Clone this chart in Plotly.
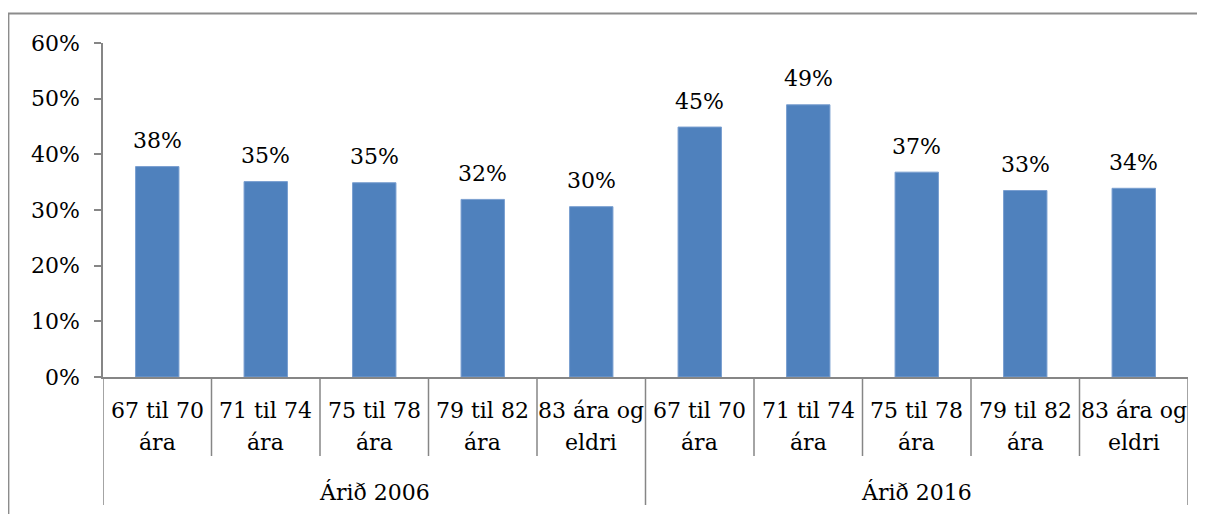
import plotly.graph_objects as go

groups = ["Árið 2006", "Árið 2016"]
categories_line1 = ["67 til 70", "71 til 74", "75 til 78", "79 til 82", "83 ára og"]
categories_line2 = ["ára", "ára", "ára", "ára", "eldri"]
values = [37.8, 35.1, 34.9, 31.9, 30.6, 44.9, 48.9, 36.8, 33.5, 33.9]
labels = ["38%", "35%", "35%", "32%", "30%", "45%", "49%", "37%", "33%", "34%"]
yticks = [0, 10, 20, 30, 40, 50, 60]

FONT = "DejaVu Serif"
AXC = "#868686"
OFF = 8  # page body margin
W, H = 1205 - OFF, 514 - OFF
L, R, T, B = 103 - OFF, 17, 43 - OFF, 137
ph = 377 - 43
pw = 1188 - 103

def py(pix):
    return (377 - pix) / ph

n_per = len(categories_line1)
xs = list(range(len(values)))

fig = go.Figure()
fig.add_trace(go.Bar(
    x=xs, y=values, width=0.4,
    marker=dict(color="#4F81BD", line=dict(color="#7A9FD0", width=1)),
    hoverinfo="skip",
))

ann = []
for x, v, t in zip(xs, values, labels):
    ann.append(dict(x=x, y=v, xref="x", yref="y", text=t, showarrow=False,
                    yanchor="middle", yshift=26, font=dict(family=FONT, size=22, color="black")))
for gi, g in enumerate(groups):
    for ci in range(n_per):
        x = gi * n_per + ci
        ann.append(dict(x=x, y=py(410), xref="x", yref="paper", text=categories_line1[ci],
                        showarrow=False, yanchor="middle",
                        font=dict(family=FONT, size=22, color="black")))
        ann.append(dict(x=x, y=py(442), xref="x", yref="paper", text=categories_line2[ci],
                        showarrow=False, yanchor="middle",
                        font=dict(family=FONT, size=22, color="black")))
    ann.append(dict(x=gi * n_per + (n_per - 1) / 2, y=py(492), xref="x", yref="paper", text=g,
                    showarrow=False, yanchor="middle",
                    font=dict(family=FONT, size=22, color="black")))

shapes = []
for i in range(len(values) + 1):
    edge = (i % n_per == 0)
    shapes.append(dict(type="line", xref="x", yref="paper", x0=i - 0.5, x1=i - 0.5,
                       y0=0, y1=py(505) if edge else py(456),
                       line=dict(color=AXC, width=1.5)))
# outer chart border
shapes.append(dict(type="rect", xref="paper", yref="paper",
                   x0=(8.5 - 103) / pw, x1=1.1, y0=-0.6, y1=py(13.5),
                   line=dict(color="#8C8C8C", width=1.8), fillcolor="rgba(0,0,0,0)"))

fig.update_layout(
    width=W, height=H,
    margin=dict(l=L, r=R, t=T, b=B),
    paper_bgcolor="white", plot_bgcolor="white",
    showlegend=False,
    xaxis=dict(range=[-0.5, len(values) - 0.5], showticklabels=False, ticks="",
               showgrid=False, zeroline=False, showline=True, linecolor=AXC, linewidth=1.5,
               fixedrange=True),
    yaxis=dict(range=[0, 60], tickvals=yticks, ticktext=[f"{v}%" for v in yticks],
               ticks="outside", ticklen=7,
               tickcolor=AXC, tickwidth=1.5, showgrid=False, zeroline=False, showline=True,
               linecolor=AXC, linewidth=1.5, ticklabelstandoff=10,
               tickfont=dict(family=FONT, size=22, color="black")),
    annotations=ann, shapes=shapes,
)
fig.write_html("out.html")
